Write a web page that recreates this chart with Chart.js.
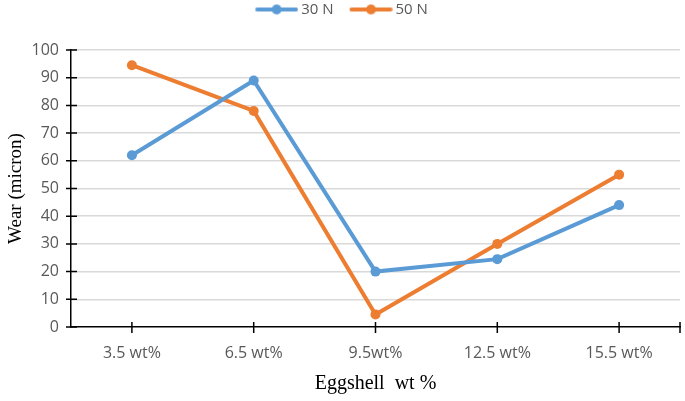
<!DOCTYPE html>
<html>
<head>
<meta charset="utf-8">
<script src="https://cdn.jsdelivr.net/npm/chart.js@4/dist/chart.umd.min.js"></script>
<style>
  html, body { margin: 0; padding: 0; background: #fff; }
  #wrap { width: 685px; height: 401px; }
</style>
</head>
<body>
<div id="wrap"><canvas id="wearChart" width="685" height="401"></canvas></div>
<script>
var categories = ["3.5 wt%", "6.5 wt%", "9.5wt%", "12.5 wt%", "15.5 wt%"];
var wear30 = [62, 89, 20, 24.5, 44];
var wear50 = [94.5, 78, 4.5, 30, 55];

var blue = '#5B9BD5';
var orange = '#ED7D31';

// legend marker: a short line with a dot, drawn a bit wider than its legend box
function legendMarker(color) {
  var c = document.createElement('canvas');
  c.width = 48; c.height = 12;
  var g = c.getContext('2d');
  g.strokeStyle = color;
  g.lineWidth = 4;
  g.lineCap = 'round';
  g.beginPath(); g.moveTo(6.75, 6); g.lineTo(45.75, 6); g.stroke();
  g.fillStyle = color;
  g.beginPath(); g.arc(26.25, 6, 5, 0, Math.PI * 2); g.fill();
  return c;
}

// tick marks that cross the axis lines, like the original
var crossTicks = {
  id: 'crossTicks',
  afterDraw: function(chart) {
    var g = chart.ctx, x = chart.scales.x, y = chart.scales.y;
    g.save();
    g.strokeStyle = '#000';
    g.lineWidth = 1.5;
    g.beginPath();
    y.ticks.forEach(function(t) {
      var py = y.getPixelForValue(t.value);
      g.moveTo(y.right - 5, py); g.lineTo(y.right + 6, py);
    });
    var xs = x.ticks.map(function(t, i) { return x.getPixelForTick(i); });
    xs.push(x.right);
    xs.forEach(function(px) {
      g.moveTo(px, x.top - 5); g.lineTo(px, x.top + 6);
    });
    g.stroke();
    g.restore();
  }
};

var ctx = document.getElementById('wearChart');
var chart = new Chart(ctx, {
  type: 'line',
  data: {
    labels: categories,
    datasets: [{
      label: '30 N',
      data: wear30,
      borderColor: blue,
      backgroundColor: blue,
      borderWidth: 4,
      pointRadius: 5,
      pointBorderWidth: 0,
      tension: 0
    }, {
      label: '50 N',
      data: wear50,
      borderColor: orange,
      backgroundColor: orange,
      borderWidth: 4,
      pointRadius: 5,
      pointBorderWidth: 0,
      tension: 0
    }]
  },
  plugins: [crossTicks],
  options: {
    responsive: false,
    animation: false,
    layout: { padding: { left: 0, right: 2, top: -14, bottom: 4 } },
    plugins: {
      tooltip: { enabled: false },
      // empty title used only as a spacer between legend and plot
      title: {
        display: true,
        text: '',
        font: { size: 10 },
        padding: { top: 0, bottom: 11 }
      },
      legend: {
        position: 'top',
        weight: 3000,
        labels: {
          usePointStyle: true,
          pointStyleWidth: 38.5,
          color: '#595959',
          font: { family: 'Open Sans', size: 15 },
          padding: 16,
          generateLabels: function(chart) {
            return chart.data.datasets.map(function(ds, i) {
              return {
                text: ds.label,
                fontColor: '#595959',
                pointStyle: legendMarker(ds.borderColor),
                datasetIndex: i,
                hidden: false,
                lineWidth: 0
              };
            });
          }
        }
      }
    },
    scales: {
      x: {
        offset: true,
        grid: {
          offset: false,
          drawOnChartArea: false,
          color: 'rgba(0,0,0,0)',
          tickLength: 6
        },
        border: { color: '#000', width: 1.5 },
        ticks: { color: '#595959', font: { family: 'Open Sans', size: 16 }, padding: 11 },
        title: {
          display: true,
          text: 'Eggshell  wt %',
          color: '#000',
          font: { family: 'Liberation Serif', size: 20 },
          padding: { top: 8, bottom: 1 }
        },
        afterFit: function(scale) { scale.height = 70; }
      },
      y: {
        min: 0,
        max: 100,
        ticks: { stepSize: 10, color: '#595959', font: { family: 'Open Sans', size: 16 }, padding: 6 },
        grid: {
          color: function(c) { return c.tick && c.tick.value === 0 ? 'rgba(0,0,0,0)' : '#D9D9D9'; },
          lineWidth: 1.5,
          tickColor: 'rgba(0,0,0,0)',
          tickLength: 6
        },
        border: { color: '#000', width: 1.5 },
        title: {
          display: true,
          text: 'Wear (micron)',
          color: '#000',
          font: { family: 'Liberation Serif', size: 19 },
          padding: { top: 5, bottom: 4 }
        },
        afterFit: function(scale) { scale.width = 71; }
      }
    }
  }
});
</script>
</body>
</html>
